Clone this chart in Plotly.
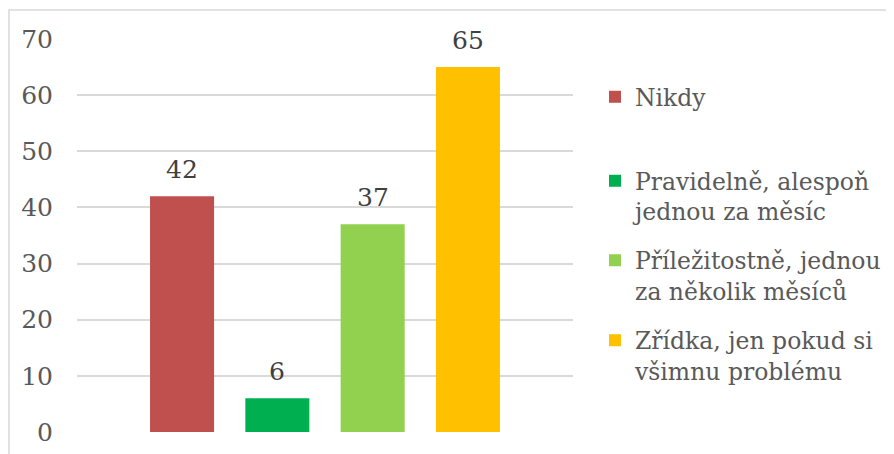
import plotly.graph_objects as go

categories = ["Nikdy", "Pravidelně, alespoň<br>jednou za měsíc",
              "Příležitostně, jednou<br>za několik měsíců",
              "Zřídka, jen pokud si<br>všimnu problému"]
values = [42, 6, 37, 65]
colors = ["#C0504D", "#00B050", "#92D050", "#FFC000"]
y_ticks = [0, 10, 20, 30, 40, 50, 60, 70]

FONT = "DejaVu Serif"
OFF = 8  # page body margin
W, H = 894 - OFF, 454 - OFF
plot_w, plot_h = 496, 393
L, T = 77 - OFF, 39 - OFF
R, B = W - L - plot_w, H - T - plot_h

def py(pix):
    return (T + plot_h - (pix - OFF)) / plot_h

def px(pix):
    return ((pix - OFF) - L) / plot_w

legend_centers = [97, 196.5, 276, 356]
legend_keys = ["legend", "legend2", "legend3", "legend4"]

fig = go.Figure()
for i, (name, val, col) in enumerate(zip(categories, values, colors)):
    fig.add_trace(go.Bar(
        x=[i], y=[val], name=name, marker=dict(color=col, line=dict(width=0)),
        width=0.672, legend=legend_keys[i], hoverinfo="skip",
    ))
    fig.add_annotation(x=i, y=val, text=str(val), showarrow=False,
                       yanchor="middle", yshift=27,
                       font=dict(family=FONT, size=25, color="#404040"))

layout_legends = {}
for i, key in enumerate(legend_keys):
    layout_legends[key] = dict(
        x=px(595), xanchor="left", y=py(legend_centers[i]), yanchor="middle",
        font=dict(family=FONT, size=23.5, color="#595959"),
        bgcolor="rgba(0,0,0,0)", valign="top",
    )

fig.update_layout(
    width=W, height=H,
    margin=dict(l=L, r=R, t=T, b=B, autoexpand=False),
    paper_bgcolor="white", plot_bgcolor="white",
    barmode="overlay", showlegend=True,
    font=dict(family=FONT, color="#595959"),
    xaxis=dict(range=[1.5 - 2.6025, 1.5 + 2.6025], showticklabels=False,
               showgrid=False, zeroline=False, showline=False, fixedrange=True),
    yaxis=dict(range=[0, 70], tickvals=y_ticks, ticktext=[str(v) for v in y_ticks],
               showgrid=True, gridcolor="#D9D9D9", gridwidth=1.5,
               zeroline=False, showline=False, ticks="",
               ticklabelstandoff=23,
               tickfont=dict(family=FONT, size=25, color="#595959"),
               fixedrange=True),
    **layout_legends,
)

fig.add_shape(type="rect", xref="paper", yref="paper",
              x0=-(L - 1) / plot_w, x1=px(W + 40), y0=py(H + 40), y1=py(10),
              line=dict(color="#D9D9D9", width=1.5), fillcolor="rgba(0,0,0,0)",
              layer="below")

fig.write_html("out.html")
